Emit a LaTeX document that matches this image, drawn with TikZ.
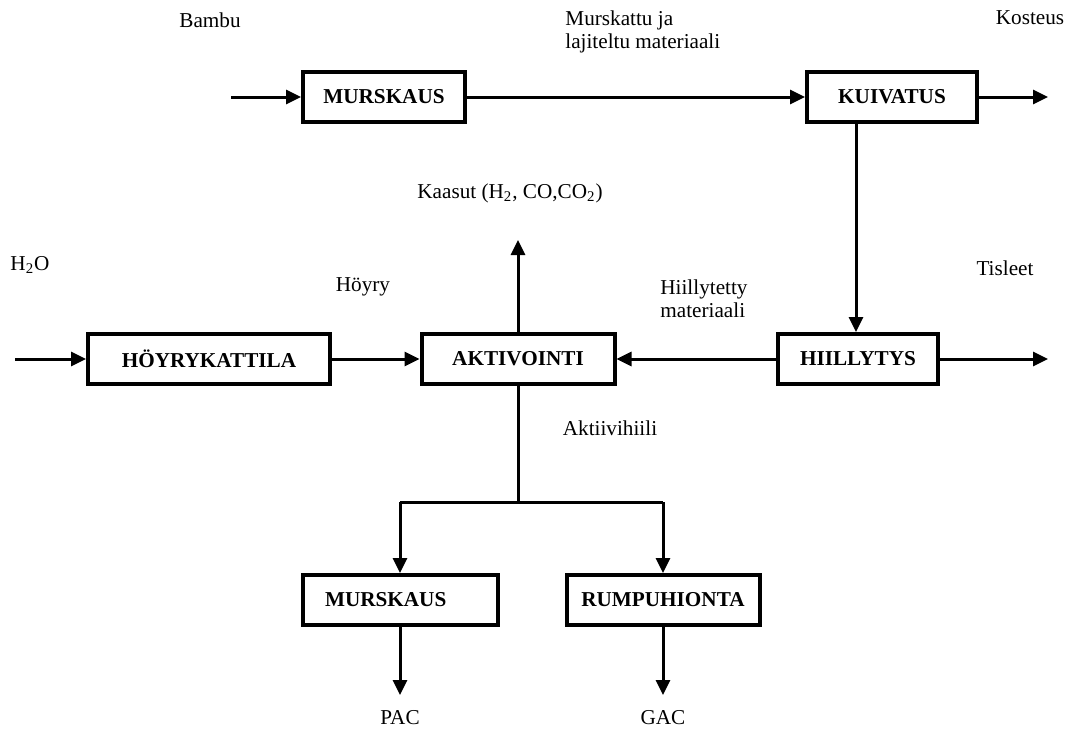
\documentclass[tikz,border=0pt]{standalone}
\usepackage{fontspec}
\setmainfont{Liberation Serif}
\usepackage{tikz}
\usetikzlibrary{arrows.meta}
\usetikzlibrary{positioning}

\tikzset{
  box/.style={draw, line width=2pt, minimum height=25pt, inner sep=0pt, font=\fontsize{10.6}{13}\selectfont\bfseries},
  lbl/.style={inner sep=0pt, font=\fontsize{10.6}{11.5}\selectfont},
  flow/.style={line width=1.5pt, -{Triangle[length=7.5pt, width=7pt]}},
  plain/.style={line width=1.5pt}
}

\begin{document}
\begin{tikzpicture}[x=0.5pt, y=-0.5pt]
            \useasboundingbox (0,0) rectangle (1072,729);
            % boxes
            \draw (384,97) node[box, minimum width=81pt]                     (murs) {MURSKAUS};
            \draw (892,97) node[box, minimum width=85pt]                     (kuiv) {KUIVATUS};
            \draw (209,359) node[box, minimum width=121pt]                   (hoyr) {HÖYRYKATTILA};
            \draw (518,359) node[box, minimum width=96.5pt]                  (akti) {AKTIVOINTI};
            \draw (858,359) node[box, minimum width=80pt]                    (hiil) {HIILLYTYS};
            \draw (400,600) node[box, minimum width=97.5pt, text width=75pt, align=left] (murs2) {MURSKAUS};
            \draw (663,600) node[box, minimum width=96.5pt]                  (rump) {RUMPUHIONTA};
            % free ends
            \coordinate (in1) at (231,97);
            \coordinate (out1) at (1048,97);
            \coordinate (in2) at (15,359);
            \coordinate (out2) at (1048,359);
            \coordinate (gas) at (518,240);
            \coordinate (j) at (518,502);
            \coordinate (jl) at (400,502);
            \coordinate (jr) at (663,502);
            \coordinate (pac) at (400,695);
            \coordinate (gac) at (663,695);
            % labels
            \draw (210,20) node[lbl]                                        (bambu) {Bambu};
            \draw (565,31.5) node[lbl, anchor=west, align=left]             (mlaji) {Murskattu ja\\lajiteltu materiaali};
            \draw (1030,18) node[lbl]                                       (kost) {Kosteus};
            \draw (510,193) node[lbl]                                       (kaas) {Kaasut (H\textsubscript{2}, CO,CO\textsubscript{2})};
            \draw (30,265) node[lbl]                                        (vesi) {H\textsubscript{2}O};
            \draw (363,287) node[lbl]                                       (hoyry) {Höyry};
            \draw (660,299) node[lbl, anchor=west, align=left]              (hmat) {Hiillytetty\\materiaali};
            \draw (1005,268) node[lbl]                                      (tisl) {Tisleet};
            \draw (610,428) node[lbl]                                       (ahii) {Aktiivihiili};
            \draw (400,718) node[lbl]                                       (pacl) {PAC};
            \draw (663,718) node[lbl]                                       (gacl) {GAC};
            % connectors
            \draw[flow] (in1) -- (murs);
            \draw[flow] (murs) -- (kuiv);
            \draw[flow] (kuiv) -- (out1);
            \draw[flow] (kuiv.south -| 856,0) -- (hiil.north -| 856,0);
            \draw[flow] (hiil) -- (out2);
            \draw[flow] (hiil) -- (akti);
            \draw[flow] (in2) -- (hoyr);
            \draw[flow] (hoyr) -- (akti);
            \draw[flow] (akti) -- (gas);
            \draw[plain] (akti) -- (j);
            \draw[plain] (jl) -- (jr);
            \draw[flow] (jl) -- (murs2);
            \draw[flow] (jr) -- (rump);
            \draw[flow] (murs2) -- (pac);
            \draw[flow] (rump) -- (gac);
\end{tikzpicture}
\end{document}
